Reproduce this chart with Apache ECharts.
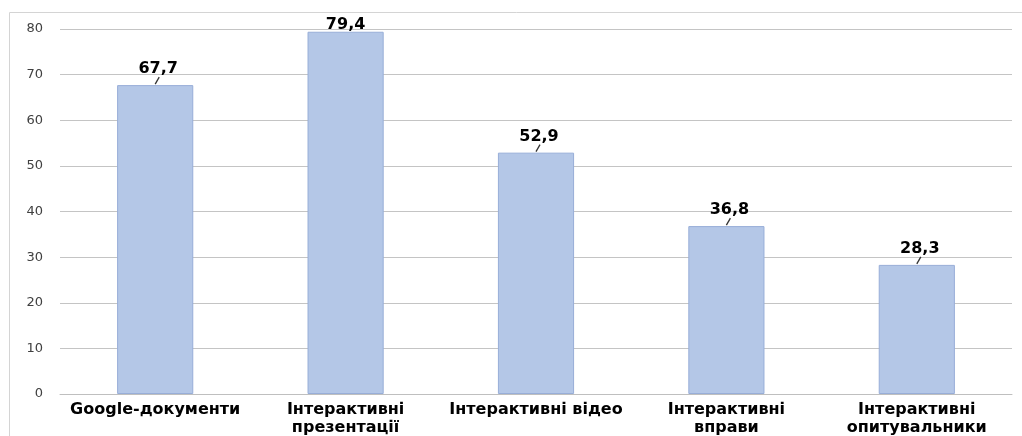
<!DOCTYPE html>
<html>
<head>
<meta charset="utf-8">
<script src="https://cdn.jsdelivr.net/npm/echarts@6/dist/echarts.min.js"></script>
<style>html,body{margin:0;padding:0;background:#fff}#c{width:1022px;height:436px}</style>
</head>
<body>
<div id="c"></div>
<script>
var categories = ["Google-документи", "Інтерактивні\nпрезентації", "Інтерактивні відео", "Інтерактивні\nвправи", "Інтерактивні\nопитувальники"];
var values = [67.7, 79.4, 52.9, 36.8, 28.3];
var yTicks = [0, 10, 20, 30, 40, 50, 60, 70, 80];

var FONT = "'DejaVu Sans', Verdana, sans-serif";
var barData = values.map(function (v, i) {
  if (i === 1) return {value: v, label: {distance: -1, offset: [0, 0]}};
  return v;
});

var chart = echarts.init(document.getElementById('c'));
chart.setOption({
  animation: false,
  graphic: [{
    type: 'rect', shape: {x: 9.5, y: 12.5, width: 1040, height: 440},
    style: {fill: 'none', stroke: '#d4d4d4', lineWidth: 1}, silent: true
  }],
  grid: {left: 60, right: 10, top: 29, bottom: 42, outerBoundsMode: 'none', containLabel: false},
  xAxis: {
    type: 'category', data: categories,
    axisLine: {show: true, lineStyle: {color: '#bfbfbf'}},
    axisTick: {show: false},
    axisLabel: {interval: 0, color: '#000', fontFamily: FONT, fontWeight: 'bold', fontSize: 16, lineHeight: 18, margin: 7}
  },
  yAxis: {
    type: 'value', min: yTicks[0], max: yTicks[yTicks.length - 1], interval: 10,
    axisLine: {show: false}, axisTick: {show: false},
    splitLine: {lineStyle: {color: '#c4c4c4', width: 1}},
    axisLabel: {color: '#404040', fontFamily: FONT, fontSize: 13, margin: 17}
  },
  series: [{
    type: 'bar', data: barData, barCategoryGap: '60%',
    itemStyle: {color: '#b4c7e7', borderColor: '#98aed8', borderWidth: 1},
    label: {
      show: true, position: 'top', distance: 8, offset: [3, 0],
      formatter: function (p) { return String(p.value).replace('.', ','); },
      color: '#000', fontFamily: FONT, fontWeight: 'bold', fontSize: 16
    },
    z: 2
  }, {
    type: 'custom',
    data: values.map(function (v, i) { return [i, v]; }),
    renderItem: function (params, api) {
      if (api.value(0) === 1) return null;
      var p = api.coord([api.value(0), api.value(1)]);
      return {
        type: 'line',
        shape: {x1: p[0], y1: p[1] - 1, x2: p[0] + 4, y2: p[1] - 8},
        style: {stroke: '#333', lineWidth: 1.3}
      };
    },
    silent: true, z: 3
  }]
});
</script>
</body>
</html>
